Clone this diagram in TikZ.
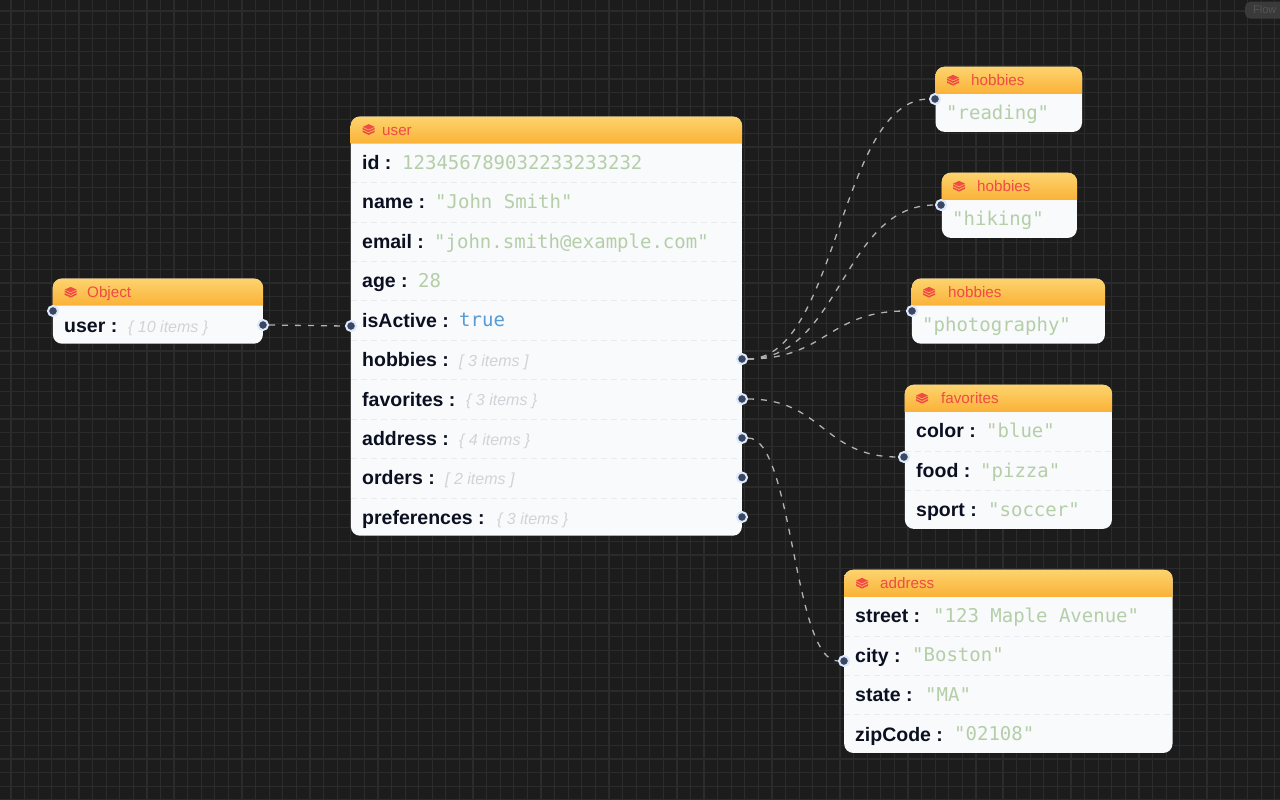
\documentclass[tikz,border=0pt]{standalone}
\usepackage{fontspec}
\setmainfont{Liberation Sans}
\setmonofont{DejaVu Sans Mono}
\definecolor{canvas}{HTML}{1C1C1C}
\definecolor{gridcol}{HTML}{2B2B2B}
\definecolor{cardbody}{HTML}{F8FAFC}
\definecolor{headtop}{HTML}{FEE48A}
\definecolor{headbot}{HTML}{F9A11B}
\definecolor{headtext}{HTML}{F04B45}
\definecolor{keytext}{HTML}{0B1021}
\definecolor{valtext}{HTML}{B5CEA8}
\definecolor{booltext}{HTML}{569CD6}
\definecolor{counttext}{HTML}{D0D3D8}
\definecolor{rowsep}{HTML}{E8EBF0}
\definecolor{portring}{HTML}{DCE8FB}
\definecolor{portfill}{HTML}{3B4660}
\definecolor{edgecol}{HTML}{B1B1B7}
\definecolor{chipfill}{HTML}{3A3A3A}
\definecolor{chiptext}{HTML}{555555}
\pgfdeclareverticalshading{headgrad}{100bp}{color(0bp)=(headbot); color(100bp)=(headtop)}
\newcommand{\cardband}[1]{%
  \shade[shading=headgrad] ([yshift=-27.2pt]#1.north west) {[rounded corners=9pt] -- (#1.north west) -- (#1.north east)} -- ([yshift=-27.2pt]#1.north east) -- cycle;
}
\newcommand{\layersicon}[1]{%
  \fill[headtext] (#1) ++(0,-5.8) -- ++(6,2.7) -- ++(-6,2.7) -- ++(-6,-2.7) -- cycle;
  \fill[headtext] (#1) ++(-6,-2.3) -- ++(6,2.8) -- ++(6,-2.8) -- ++(0,1.7) -- ++(-6,2.8) -- ++(-6,-2.8) -- cycle;
  \fill[headtext] (#1) ++(-6,0.4) -- ++(6,2.8) -- ++(6,-2.8) -- ++(0,1.7) -- ++(-6,2.8) -- ++(-6,-2.8) -- cycle;
}
\begin{document}
\begin{tikzpicture}[
    x=1pt, y=-1pt,
    card/.style={rectangle, rounded corners=9pt, fill=cardbody, inner sep=0pt, anchor=north west},
    title/.style={anchor=base west, inner sep=0pt, font=\fontsize{15.2}{15.2}\selectfont, text=headtext},
    keyname/.style={anchor=base west, inner sep=0pt, font=\fontsize{19.5}{19.5}\selectfont\bfseries, text=keytext},
    value/.style={anchor=base west, inner sep=0pt, font=\fontsize{19}{19}\selectfont\ttfamily, text=valtext},
    truth/.style={value, text=booltext},
    count/.style={anchor=base west, inner sep=0pt, font=\fontsize{16}{16}\selectfont\itshape, text=counttext},
    port/.style={circle, draw=portring, fill=portfill, line width=2pt, minimum size=10pt, inner sep=0pt},
    rowline/.style={draw=rowsep, line width=1pt, dash pattern=on 6pt off 4pt},
    edge/.style={draw=edgecol, line width=1.3pt, dash pattern=on 6pt off 7pt}
]
\useasboundingbox (0,0) rectangle (1280,800);

% Background and grid
\fill[canvas] (0,0) rectangle (1280,800);
\foreach \gx in {0,...,94} {\draw[gridcol, line width=1.2pt] (11+13.59*\gx,0) -- (11+13.59*\gx,800);}
\foreach \gy in {0,...,58} {\draw[gridcol, line width=1.2pt] (0,11+13.6*\gy) -- (1280,11+13.6*\gy);}

% Corner chip
\node[rectangle, rounded corners=5pt, fill=chipfill, minimum width=60pt, minimum height=17pt, anchor=north west, inner sep=0pt] (chip) at (1245,1.5) {};
\node[anchor=base west, inner sep=0pt, font=\fontsize{11}{11}\selectfont, text=chiptext] (chiplabel) at (1253,13.5) {Flow};

% Cards
\node[card, minimum width=210pt, minimum height=65pt] (object) at (52.7,278.5) {};
\node[card, minimum width=391pt, minimum height=419pt] (user) at (350.7,116.5) {};
\node[card, minimum width=146.4pt, minimum height=65pt] (hobbyA) at (935.4,66.7) {};
\node[card, minimum width=135pt, minimum height=65pt] (hobbyB) at (941.7,172.7) {};
\node[card, minimum width=193pt, minimum height=65pt] (hobbyC) at (911.7,278.5) {};
\node[card, minimum width=207pt, minimum height=144pt] (favorites) at (904.7,384.7) {};
\node[card, minimum width=328.3pt, minimum height=183pt] (address) at (844,569.7) {};

% Card headers
\cardband{object}
\cardband{user}
\cardband{hobbyA}
\cardband{hobbyB}
\cardband{hobbyC}
\cardband{favorites}
\cardband{address}

% Header icons
\layersicon{70.7,292.7}
\layersicon{368.7,130}
\layersicon{953,80.7}
\layersicon{959,186.7}
\layersicon{929,292.7}
\layersicon{922,398.7}
\layersicon{862,583.7}

% Header titles
\node[title] (objectTitle) at (87,297.5) {Object};
\node[title] (userTitle) at (382,135) {user};
\node[title] (hobbyATitle) at (971,85.5) {hobbies};
\node[title] (hobbyBTitle) at (977,191.5) {hobbies};
\node[title] (hobbyCTitle) at (948,297.5) {hobbies};
\node[title] (favoritesTitle) at (941,403.5) {favorites};
\node[title] (addressTitle) at (880,588.5) {address};

% Row separators
\draw[rowline] (351,182.5) -- (742,182.5);
\draw[rowline] (351,222) -- (742,222);
\draw[rowline] (351,261) -- (742,261);
\draw[rowline] (351,300.5) -- (742,300.5);
\draw[rowline] (351,340) -- (742,340);
\draw[rowline] (351,379.5) -- (742,379.5);
\draw[rowline] (351,419) -- (742,419);
\draw[rowline] (351,458.5) -- (742,458.5);
\draw[rowline] (351,498) -- (742,498);
\draw[rowline] (905,451) -- (1112,451);
\draw[rowline] (905,490) -- (1112,490);
\draw[rowline] (844,636) -- (1172,636);
\draw[rowline] (844,675) -- (1172,675);
\draw[rowline] (844,714.5) -- (1172,714.5);

% Object row
\node[keyname] (objectKey) at (64,332) {user :};
\node[count] (objectCount) at (128,332) {\{ 10 items \}};

% User rows
\node[keyname] (idKey) at (362,169) {id :};
\node[value] (idVal) at (402,169) {123456789032233233232};
\node[keyname] (nameKey) at (362,208.5) {name :};
\node[value] (nameVal) at (435,208.5) {"John Smith"};
\node[keyname] (emailKey) at (362,248) {email :};
\node[value] (emailVal) at (434,248) {"john.smith@example.com"};
\node[keyname] (ageKey) at (362,287.5) {age :};
\node[value] (ageVal) at (418,287.5) {28};
\node[keyname] (activeKey) at (362,327) {isActive :};
\node[truth] (activeVal) at (459,326.5) {true};
\node[keyname] (hobbiesKey) at (362,366.5) {hobbies :};
\node[count] (hobbiesCount) at (459,366) {[ 3 items ]};
\node[keyname] (favoritesKey) at (362,406) {favorites :};
\node[count] (favoritesCount) at (466,405.5) {\{ 3 items \}};
\node[keyname] (addressKey) at (362,445) {address :};
\node[count] (addressCount) at (459,445) {\{ 4 items \}};
\node[keyname] (ordersKey) at (362,484.5) {orders :};
\node[count] (ordersCount) at (445,484.5) {[ 2 items ]};
\node[keyname] (prefsKey) at (362,524) {preferences :};
\node[count] (prefsCount) at (497,524) {\{ 3 items \}};

% Leaf values
\node[value] (hobbyAVal) at (946,119) {"reading"};
\node[value] (hobbyBVal) at (952,225) {"hiking"};
\node[value] (hobbyCVal) at (922,331) {"photography"};

% Favorites rows
\node[keyname] (colorKey) at (916,437.5) {color :};
\node[value] (colorVal) at (986,437.5) {"blue"};
\node[keyname] (foodKey) at (916,477) {food :};
\node[value] (foodVal) at (980,477) {"pizza"};
\node[keyname] (sportKey) at (916,516.5) {sport :};
\node[value] (sportVal) at (988,516.5) {"soccer"};

% Address rows
\node[keyname] (streetKey) at (855,622.5) {street :};
\node[value] (streetVal) at (933,622) {"123 Maple Avenue"};
\node[keyname] (cityKey) at (855,662) {city :};
\node[value] (cityVal) at (912,661.5) {"Boston"};
\node[keyname] (stateKey) at (855,701.5) {state :};
\node[value] (stateVal) at (925,701) {"MA"};
\node[keyname] (zipKey) at (855,741) {zipCode :};
\node[value] (zipVal) at (954,740.5) {"02108"};

% Ports
\node[port] (objectIn) at (53,311) {};
\node[port] (objectOut) at (263,325) {};
\node[port] (userIn) at (351,326) {};
\node[port] (hobbiesOut) at (742,359) {};
\node[port] (favoritesOut) at (742,399) {};
\node[port] (addressOut) at (742,438) {};
\node[port] (ordersOut) at (742,477.5) {};
\node[port] (prefsOut) at (742,517) {};
\node[port] (hobbyAIn) at (935,99) {};
\node[port] (hobbyBIn) at (941,205) {};
\node[port] (hobbyCIn) at (912,311) {};
\node[port] (favoritesIn) at (904,457) {};
\node[port] (addressIn) at (844,661) {};

% Connectors
\draw[edge] (objectOut) .. controls +(44,0) and +(-44,0) .. (userIn);
\draw[edge] (hobbiesOut) .. controls +(96,0) and +(-96,0) .. (hobbyAIn);
\draw[edge] (hobbiesOut) .. controls +(99,0) and +(-99,0) .. (hobbyBIn);
\draw[edge] (hobbiesOut) .. controls +(85,0) and +(-85,0) .. (hobbyCIn);
\draw[edge] (favoritesOut) .. controls +(81,0) and +(-81,0) .. (favoritesIn);
\draw[edge] (addressOut) .. controls +(51,0) and +(-51,0) .. (addressIn);

\end{tikzpicture}
\end{document}
